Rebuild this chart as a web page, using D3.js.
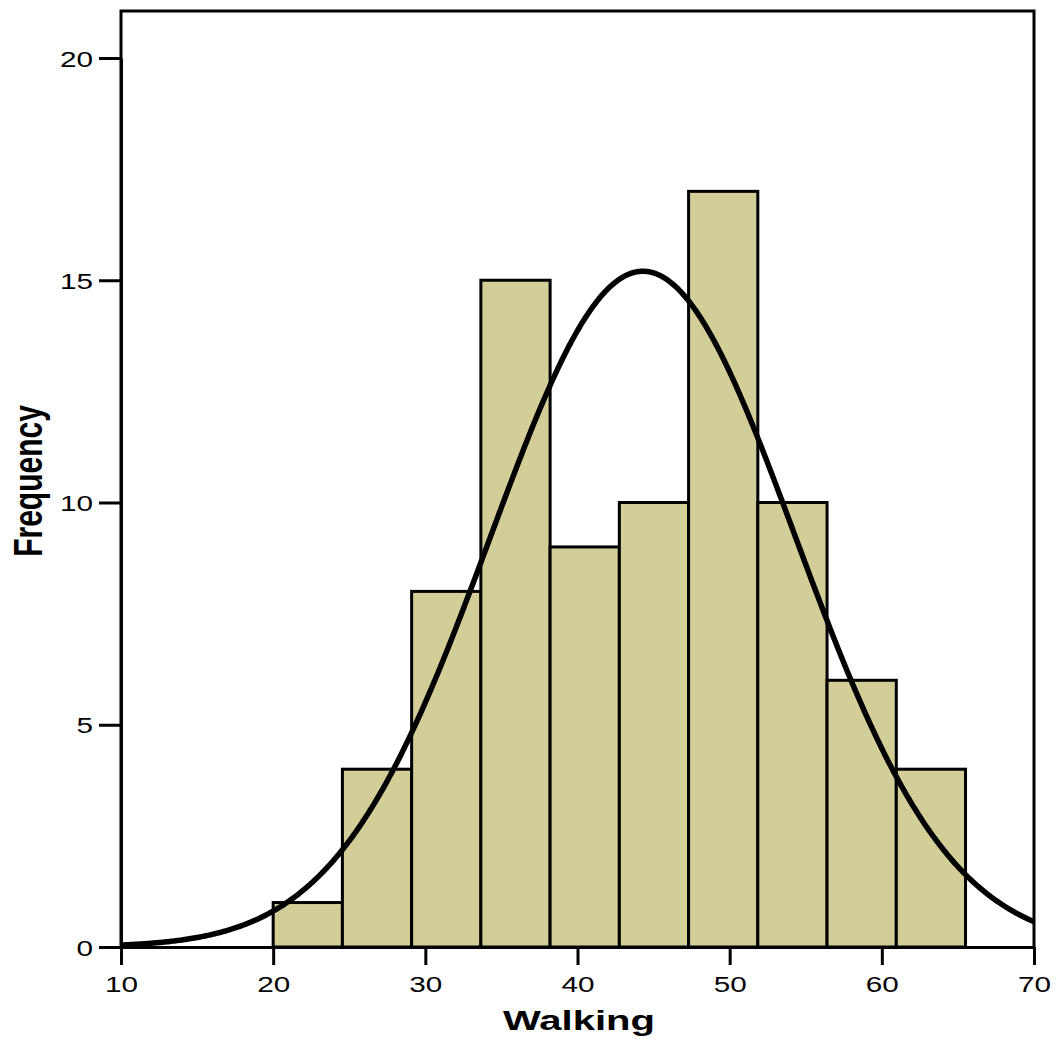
<!DOCTYPE html>
<html>
<head>
<meta charset="utf-8">
<script src="https://cdn.jsdelivr.net/npm/d3@7"></script>
<style>
  html, body { margin: 0; padding: 0; background: #fff; }
  svg { display: block; }
  text { font-family: "Liberation Sans", Arial, sans-serif; fill: #000; }
</style>
</head>
<body>
<svg id="chart" width="1057" height="1045"></svg>
<script>
// Histogram of Walking scores with a fitted normal curve
const binStart = 20;
const binWidth = 4.55;
const counts = [1, 4, 8, 15, 9, 10, 17, 10, 6, 4];
const xTicks = [10, 20, 30, 40, 50, 60, 70];
const yTicks = [0, 5, 10, 15, 20];
const fitMean = 44.3;
const fitSd = 10.03;
const xTitle = "Walking";
const yTitle = "Frequency";

const plot = { left: 121, right: 1034, top: 11, bottom: 947 };
const stretch = 1.35; // horizontal glyph stretch used for all text

const svg = d3.select("#chart");

const x = d3.scaleLinear().domain([10, 70]).range([plot.left, plot.right]);
const y = d3.scaleLinear().domain([0, 20]).range([plot.bottom, 58]);

const bins = counts.map((c, i) => ({
  x0: binStart + i * binWidth,
  x1: binStart + (i + 1) * binWidth,
  count: c
}));

// bars
svg.append("g")
  .selectAll("rect")
  .data(bins)
  .join("rect")
  .attr("x", d => x(d.x0))
  .attr("y", d => y(d.count))
  .attr("width", d => x(d.x1) - x(d.x0))
  .attr("height", d => y(0) - y(d.count))
  .attr("fill", "#d3ce97")
  .attr("stroke", "#000")
  .attr("stroke-width", 3);

// fitted normal density scaled to frequencies
const total = d3.sum(counts);
const density = v => total * binWidth / (fitSd * Math.sqrt(2 * Math.PI)) *
  Math.exp(-0.5 * Math.pow((v - fitMean) / fitSd, 2));
const curveXs = d3.range(10, 70.001, 0.1);

svg.append("clipPath").attr("id", "plotClip")
  .append("rect")
  .attr("x", plot.left).attr("y", plot.top)
  .attr("width", plot.right - plot.left).attr("height", plot.bottom - plot.top);

svg.append("path")
  .datum(curveXs)
  .attr("clip-path", "url(#plotClip)")
  .attr("fill", "none")
  .attr("stroke", "#000")
  .attr("stroke-width", 5.5)
  .attr("stroke-linejoin", "round")
  .attr("d", d3.line().x(v => x(v)).y(v => y(density(v))));

// frame
svg.append("path")
  .attr("fill", "none")
  .attr("stroke", "#000")
  .attr("stroke-width", 3)
  .attr("d", `M${plot.left},${plot.bottom}V${plot.top}H${plot.right}V${plot.bottom}`);

// x axis
const xAxis = svg.append("g")
  .attr("transform", `translate(0,${plot.bottom})`)
  .call(d3.axisBottom(x).tickValues(xTicks).tickSize(18).tickSizeOuter(0).tickPadding(0));
xAxis.select(".domain").attr("stroke-width", 3);
xAxis.selectAll(".tick line").attr("stroke-width", 3);
xAxis.selectAll(".tick text").remove();
xAxis.selectAll(".tick").append("text")
  .attr("transform", `translate(0,45) scale(${stretch},1)`)
  .attr("text-anchor", "middle")
  .attr("font-size", 22)
  .text(d => d);

// y axis
const yAxis = svg.append("g")
  .attr("transform", `translate(${plot.left},0)`)
  .call(d3.axisLeft(y).tickValues(yTicks).tickSize(22).tickSizeOuter(0).tickPadding(0));
yAxis.select(".domain").attr("stroke-width", 3);
yAxis.selectAll(".tick line").attr("stroke-width", 3);
yAxis.selectAll(".tick text").remove();
yAxis.selectAll(".tick").append("text")
  .attr("transform", `translate(-28,8) scale(${stretch},1)`)
  .attr("text-anchor", "end")
  .attr("font-size", 22)
  .text(d => d);

// axis titles
svg.append("text")
  .attr("transform", `translate(579,1030) scale(1.43,1)`)
  .attr("text-anchor", "middle")
  .attr("font-size", 28)
  .attr("font-weight", "bold")
  .text(xTitle);

svg.append("text")
  .attr("transform", `translate(42,481) scale(${stretch},1) rotate(-90)`)
  .attr("text-anchor", "middle")
  .attr("font-size", 30)
  .attr("font-weight", "bold")
  .text(yTitle);
</script>
</body>
</html>
